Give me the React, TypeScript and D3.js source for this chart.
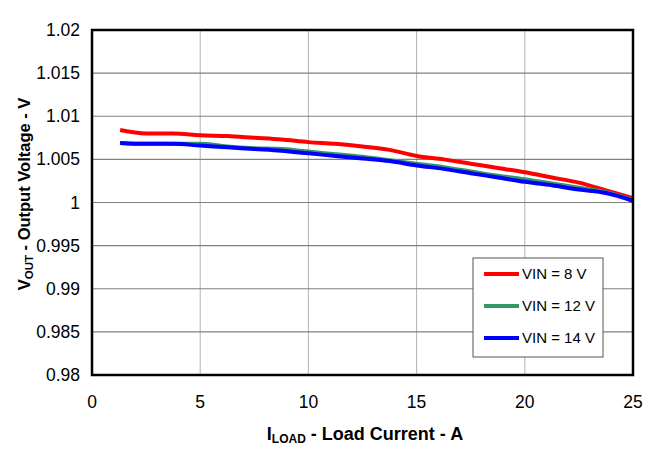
import React from "react";
import * as d3 from "d3";

const loadCurrent = [1.3, 2.5, 3.75, 5, 6.25, 7.5, 8.75, 10, 11.25, 12.5, 13.75, 15, 16.25, 17.5, 18.75, 20, 21.25, 22.5, 23.75, 25];
const vin8 = [1.0084, 1.008, 1.008, 1.0078, 1.0077, 1.0075, 1.0073, 1.007, 1.0068, 1.0065, 1.0061, 1.0054, 1.005, 1.0045, 1.004, 1.0035, 1.0029, 1.0023, 1.0014, 1.0005];
const vin12 = [1.0069, 1.0068, 1.0068, 1.0068, 1.0065, 1.0063, 1.0062, 1.0059, 1.0056, 1.0053, 1.0049, 1.0045, 1.0041, 1.0036, 1.0031, 1.0027, 1.0022, 1.0017, 1.0012, 1.0003];
const vin14 = [1.0069, 1.0068, 1.0068, 1.0066, 1.0064, 1.0062, 1.006, 1.0057, 1.0054, 1.0051, 1.0048, 1.0043, 1.0039, 1.0034, 1.0029, 1.0024, 1.002, 1.0015, 1.0011, 1.0002];
const xTicks = [0, 5, 10, 15, 20, 25];
const yTicks = [0.98, 0.985, 0.99, 0.995, 1, 1.005, 1.01, 1.015, 1.02];
const yTickLabels = ["0.98", "0.985", "0.99", "0.995", "1", "1.005", "1.01", "1.015", "1.02"];
const seriesNames = ["VIN = 8 V", "VIN = 12 V", "VIN = 14 V"];
const seriesColors = ["#ff0000", "#339966", "#0000ff"];

export default function App() {
  const left = 92, right = 633, top = 30, bottom = 375;
  const x = d3.scaleLinear().domain([0, 25]).range([left, right]);
  const y = d3.scaleLinear().domain([0.98, 1.02]).range([bottom, top]);
  const series = [vin8, vin12, vin14];
  const line = d3
    .line<[number, number]>()
    .x((d) => x(d[0]))
    .y((d) => y(d[1]))
    .curve(d3.curveMonotoneX);
  const font = "'Liberation Sans', Arial, sans-serif";
  const order = [0, 1, 2];
  return (
    <svg width={656} height={460} style={{ position: "absolute", left: 0, top: 0 }} fontFamily={font}>
      <rect x={0} y={0} width={656} height={460} fill="#fff" />
      {xTicks.slice(1, -1).map((t) => (
        <line key={"vx" + t} x1={x(t)} x2={x(t)} y1={top} y2={bottom} stroke="#b3b3b3" strokeWidth={1} />
      ))}
      {yTicks.slice(1, -1).map((t) => (
        <line key={"hy" + t} x1={left} x2={right} y1={y(t)} y2={y(t)} stroke="#808080" strokeWidth={1.2} />
      ))}
      {order.map((i) => (
        <path
          key={"s" + i}
          d={line(loadCurrent.map((c, j) => [c, series[i][j]] as [number, number])) || ""}
          fill="none"
          stroke={seriesColors[i]}
          strokeWidth={4}
        />
      ))}
      <rect x={left} y={top} width={right - left} height={bottom - top} fill="none" stroke="#000" strokeWidth={2.5} />
      {xTicks.map((t) => (
        <text key={"xt" + t} x={x(t)} y={bottom + 33} textAnchor="middle" fontSize={17.5} fill="#000">
          {t}
        </text>
      ))}
      {yTicks.map((t, i) => (
        <text key={"yt" + t} x={left - 12} y={y(t) + 6} textAnchor="end" fontSize={17.5} fill="#000">
          {yTickLabels[i]}
        </text>
      ))}
      <text x={365} y={440} textAnchor="middle" fontSize={18} fontWeight="bold" fill="#000">
        I<tspan fontSize={12} dy={3}>LOAD</tspan>
        <tspan dy={-3}> - Load Current - A</tspan>
      </text>
      <text transform={`translate(30,194) rotate(-90)`} textAnchor="middle" fontSize={16.5} fontWeight="bold" fill="#000">
        V<tspan fontSize={11.5} dy={3}>OUT</tspan>
        <tspan dy={-3}> - Output Voltage - V</tspan>
      </text>
      <rect x={473} y={258} width={130} height={99} fill="#fff" stroke="#555" strokeWidth={1} />
      {seriesNames.map((n, i) => (
        <g key={"lg" + i}>
          <line x1={484} x2={519} y1={274 + i * 32} y2={274 + i * 32} stroke={seriesColors[i]} strokeWidth={4} />
          <text x={522} y={279 + i * 32} fontSize={15} fill="#000">
            {n}
          </text>
        </g>
      ))}
    </svg>
  );
}
